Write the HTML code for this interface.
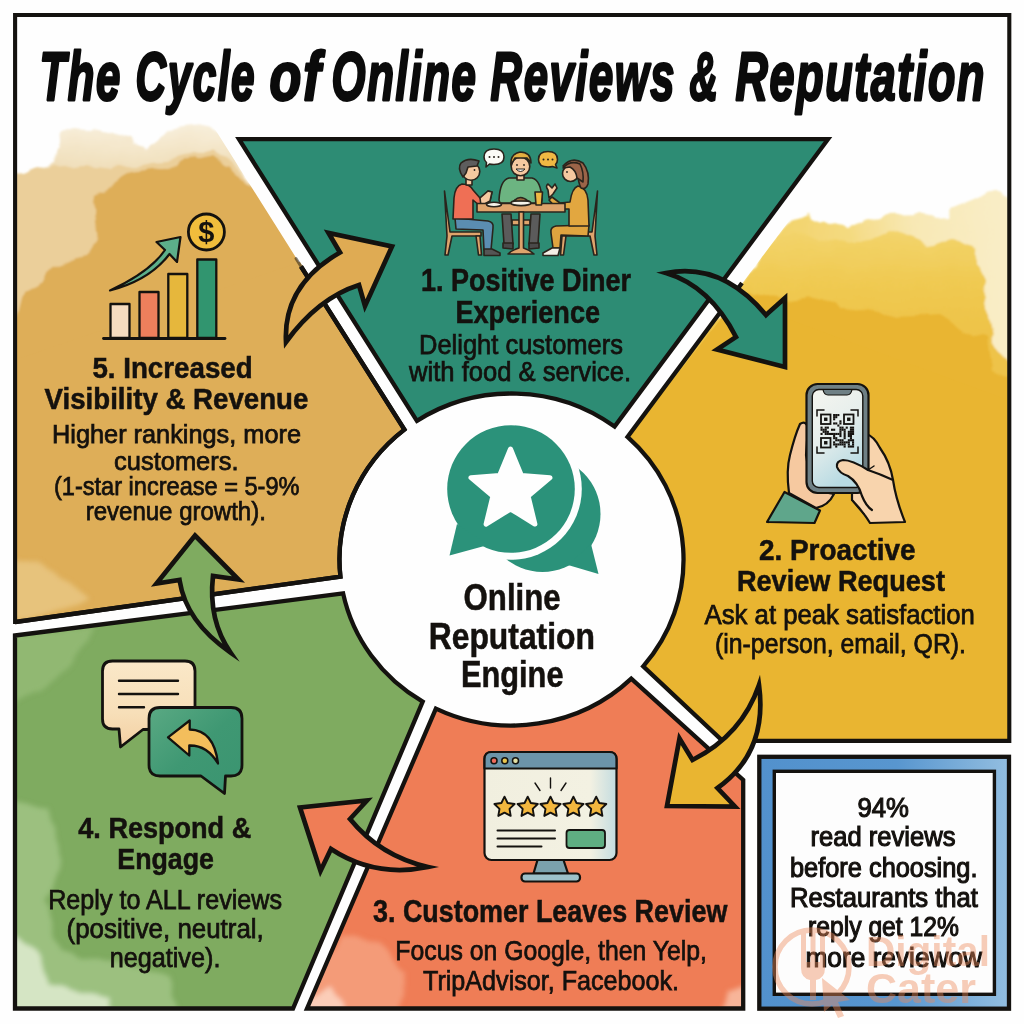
<!DOCTYPE html>
<html lang="en"><head><meta charset="utf-8"><title>The Cycle of Online Reviews &amp; Reputation</title>
<style>html,body{margin:0;padding:0;background:#fefefe;}svg{display:block;}</style></head>
<body>
<svg width="1024" height="1024" viewBox="0 0 1024 1024">
<defs>
<clipPath id="cl5"><path d="M15,15 L143,15 L404.4,429.6 A172 166 0 0 0 340.4,576.6 L15,622 Z"/></clipPath>
<clipPath id="cl2"><path d="M1009,15 L943,15 L627.5,436.9 A172 166 0 0 1 643.2,666.3 L722.5,740.8 L1009,740.8 Z"/></clipPath>
<filter id="wc" x="-5%" y="-5%" width="110%" height="110%"><feTurbulence type="fractalNoise" baseFrequency="0.035" numOctaves="3" seed="4" result="n"/><feDisplacementMap in="SourceGraphic" in2="n" scale="14" xChannelSelector="R" yChannelSelector="G" result="d"/><feGaussianBlur in="d" stdDeviation="1.1"/></filter>
<linearGradient id="tanA" gradientUnits="userSpaceOnUse" x1="0" y1="124" x2="0" y2="190"><stop offset="0" stop-color="#f8efdc"/><stop offset=".6" stop-color="#f1e0bd"/><stop offset="1" stop-color="#ebcf9a"/></linearGradient>
<linearGradient id="yelA" gradientUnits="userSpaceOnUse" x1="780" y1="0" x2="1000" y2="0"><stop offset="0" stop-color="#f3d36a"/><stop offset=".3" stop-color="#f4da80"/><stop offset=".6" stop-color="#f8e8b4"/><stop offset="1" stop-color="#f9edc6"/></linearGradient>
<linearGradient id="yelB" gradientUnits="userSpaceOnUse" x1="0" y1="232" x2="0" y2="330"><stop offset="0" stop-color="#f3d46c"/><stop offset=".5" stop-color="#f0ca52"/><stop offset="1" stop-color="#eec348"/></linearGradient>
<filter id="wc2" x="-10%" y="-10%" width="120%" height="120%"><feTurbulence type="fractalNoise" baseFrequency="0.04" numOctaves="2" seed="9" result="n"/><feDisplacementMap in="SourceGraphic" in2="n" scale="10" xChannelSelector="R" yChannelSelector="G" result="d"/><feGaussianBlur in="d" stdDeviation="2.5"/></filter>
<linearGradient id="blue" x1="0" y1="0" x2="1" y2="0"><stop offset="0" stop-color="#5291cd"/><stop offset=".55" stop-color="#5896cf"/><stop offset="1" stop-color="#93bee0"/></linearGradient>
<linearGradient id="scr" x1="0" y1="0" x2=".4" y2="1"><stop offset="0" stop-color="#f5f5ef"/><stop offset=".5" stop-color="#e6eeec"/><stop offset="1" stop-color="#b9dbe3"/></linearGradient>
<linearGradient id="mon" x1="0" y1="0" x2="1" y2="0"><stop offset="0" stop-color="#f1efdf"/><stop offset=".8" stop-color="#f3f1e2"/><stop offset="1" stop-color="#c3dce0"/></linearGradient>
<linearGradient id="cream" x1="0" y1="0" x2="0" y2="1"><stop offset="0" stop-color="#fae8c8"/><stop offset=".6" stop-color="#f7dfb9"/><stop offset="1" stop-color="#f3d0a2"/></linearGradient>
<linearGradient id="gb" x1="0" y1="0" x2="1" y2="1"><stop offset="0" stop-color="#5aa983"/><stop offset=".5" stop-color="#3f9873"/><stop offset="1" stop-color="#3a9470"/></linearGradient>
</defs>
<rect x="0" y="0" width="1024" height="1024" fill="#fefefe"/>
<g clip-path="url(#cl5)"><g filter="url(#wc)">
<path d="M0,176 L35,171 L55,166 L58,150 L65,129 L94,130 L122,137 L147,146 L162,135 L172,128 L203,124 L221,135 L233,153 L244,171 L262,203 L404.4,429.6 A 172.0 166.0 0 0 0 340.4,576.6 L0,640 Z" fill="url(#tanA)"/>
<path d="M0,176 L35,171 L56,168 L86,165 L110,168 L132,166 L152,162 L175,160 L198,155 L211,150 L226,160 L244,174 L264,196 L404.4,429.6 A 172.0 166.0 0 0 0 340.4,576.6 L0,640 Z" fill="#ebcf9a"/>
<path d="M0,330 L20,313 L25,293 L40,285 L53,267 L86,255 L94,242 L91,212 L94,196 L112,184 L132,172 L152,169 L175,167 L185,162 L198,161 L211,156 L226,167 L244,179 L264,196 L404.4,429.6 A 172.0 166.0 0 0 0 340.4,576.6 L0,640 Z" fill="#deae58"/>
</g></g>
<path d="M15,360 L300,262 L404.4,429.6 A 172.0 166.0 0 0 0 340.4,576.6 L15,622 Z" fill="#deae58"/>
<path d="M301,266.5 L404.4,429.6 A 172.0 166.0 0 0 0 340.4,576.6 L15,622" fill="none" stroke="#14120f" stroke-width="4.3" stroke-linejoin="miter"/>
<path d="M296,258.5 L301,266.5" fill="none" stroke="#14120f" stroke-width="3" stroke-linecap="round" opacity=".5"/>
<g clip-path="url(#cl2)"><g filter="url(#wc)">
<path d="M790,220 L806,214 L828,224 L846,229 L865,220 L889,213 L921,212 L937,221 L950,220 L955,207 L974,199 L992,193 L1030,200 L1030,760 L722,760 L643.2,666.3 A 172.0 166.0 0 0 0 627.5,436.9 Z" fill="url(#yelA)"/>
<path d="M770,246 L800,232 L826,240 L850,246 L874,240 L896,230 L930,244 L952,240 L975,252 L985,300 L992,345 L1030,384 L1030,760 L722,760 L643.2,666.3 A 172.0 166.0 0 0 0 627.5,436.9 Z" fill="url(#yelB)"/>
<path d="M748,292 L788,299 L820,295 L841,307 L878,313 L889,317 L942,315 L966,331 L987,339 L991,371 L1030,381 L1030,760 L722,760 L643.2,666.3 A 172.0 166.0 0 0 0 627.5,436.9 Z" fill="#e9b531"/>
</g></g>
<path d="M736,300 L1008,400 L1008,740.8 L722.5,740.8 L643.2,666.3 A 172.0 166.0 0 0 0 627.5,436.9 Z" fill="#e9b531"/>
<path d="M742,283 L627.5,436.9 A 172.0 166.0 0 0 1 643.2,666.3 L722.5,740.8 L1009,740.8" fill="none" stroke="#14120f" stroke-width="4.3" stroke-linejoin="miter"/>
<path d="M239.0,139.2 L828.0,139.2 L614.6,426.6 A 172.0 166.0 0 0 0 416.9,420.9 Z" fill="#2d8c74" stroke="#14120f" stroke-width="4.3" stroke-linejoin="miter"/>
<clipPath id="clr"><path d="M435.9,708.6 L307,1008.5 L743.2,1008.5 L743.2,780 L631.3,678.6 A 172.0 166.0 0 0 1 435.9,708.6 Z"/></clipPath><clipPath id="clg"><path d="M15,635.5 L343.1,593.4 A 172.0 166.0 0 0 0 422.7,701.6 L293,1008.5 L15,1008.5 Z"/></clipPath>
<path d="M435.9,708.6 L307,1008.5 L743.2,1008.5 L743.2,780 L631.3,678.6 A 172.0 166.0 0 0 1 435.9,708.6 Z" fill="#ef7d56"/>
<path d="M15,635.5 L343.1,593.4 A 172.0 166.0 0 0 0 422.7,701.6 L293,1008.5 L15,1008.5 Z" fill="#7fab60"/>
<g clip-path="url(#clg)"><g filter="url(#wc2)">
<path d="M10,800 L48,808 L62,860 L46,900 L60,950 L110,962 L170,975 L176,1015 L10,1015 Z" fill="#a5c78a" opacity=".75"/>
<path d="M10,935 L38,950 L48,985 L110,998 L112,1015 L10,1015 Z" fill="#e4eed6" opacity=".8"/>
<path d="M10,636 L95,626 L72,665 L40,690 L10,702 Z" fill="#98bd7b" opacity=".7"/>
</g></g>
<g clip-path="url(#clr)"><g filter="url(#wc2)">
<path d="M322,960 L345,935 L380,945 L405,975 L400,1015 L300,1015 Z" fill="#f5a684" opacity=".75"/>
<path d="M306,1000 L330,985 L350,1015 L300,1015 Z" fill="#fbd9c8" opacity=".8"/>
<path d="M722,1015 L728,992 L750,985 L750,1015 Z" fill="#f9c3aa" opacity=".8"/>
</g></g>
<g clip-path="url(#cl5)"><g filter="url(#wc2)">
<path d="M10,556 L38,562 L70,585 L92,598 L60,612 L10,622 Z" fill="#e9c783" opacity=".85"/>
</g></g>
<path d="M435.9,708.6 L307,1008.5 L743.2,1008.5 L743.2,780 L631.3,678.6 A 172.0 166.0 0 0 1 435.9,708.6 Z" fill="none" stroke="#14120f" stroke-width="4.3" stroke-linejoin="miter"/>
<path d="M15,635.5 L343.1,593.4 A 172.0 166.0 0 0 0 422.7,701.6 L293,1008.5 L15,1008.5 Z" fill="none" stroke="#14120f" stroke-width="4.3" stroke-linejoin="miter"/>
<path d="M301,266.5 L404.4,429.6 A 172.0 166.0 0 0 0 340.4,576.6 L15,622" fill="none" stroke="#14120f" stroke-width="4.3" stroke-linejoin="miter"/>
<path d="M15.1,624 L15.1,15 L1009.3,15 L1009.3,743" fill="none" stroke="#14120f" stroke-width="4.1" stroke-linejoin="miter"/>
<rect x="759.3" y="756.8" width="249.7" height="251.9" fill="url(#blue)" stroke="#14120f" stroke-width="4.3"/>
<rect x="774.3" y="771.3" width="220.1" height="223" fill="#fdfdfd" stroke="#14120f" stroke-width="3.4"/>
<g stroke="#14120f" stroke-width="4.7" stroke-linejoin="miter" stroke-miterlimit="8">
<path d="M286,342 Q283,285 340,252.5 L328.5,233 L392,246.5 L365,306 L359,285 Q318,298 286,342 Z" fill="#dfab53"/>
<path d="M666,273 Q722,262 766,315 L785,298 L785,367 L717,349.5 L736,337 Q710,286 666,273 Z" fill="#2d8c74"/>
<path d="M759,685 Q768,752 717.5,788 L735,806.5 L667,806 L679.5,738.5 L692.5,760 Q742,735 759,685 Z" fill="#e9b531"/>
<path d="M428,867 Q380,856 350,819 L367,800.5 L300,807.5 L320.5,871 L331,849 Q375,878 428,867 Z" fill="#ef7d56"/>
<path d="M195,535.5 L238.5,579.5 L213,576 Q208,620 230.5,652.5 Q186,622 179.5,580 L156.5,583.5 Z" fill="#7fab60"/>
</g>
<g>
<circle cx="542.5" cy="514" r="58" fill="#2b927a"/>
<path d="M591,544 L598.5,574 L568,565 Z" fill="#2b927a"/>
<circle cx="511" cy="489" r="70.8" fill="#fefefe"/>
<circle cx="511" cy="489" r="63.8" fill="#2b927a"/>
<path d="M457,524 L449.5,555.5 L488,545 Z" fill="#2b927a"/>
<polygon points="510.5,449.0 521.4,475.5 550.0,477.7 528.1,496.2 534.9,524.1 510.5,509.0 486.1,524.1 492.9,496.2 471.0,477.7 499.6,475.5" fill="#fefefe" stroke="#fefefe" stroke-width="5" stroke-linejoin="round"/>
</g>
<g stroke="#14120f" stroke-width="2.3" stroke-linejoin="round" stroke-linecap="round">
<rect x="110.5" y="304" width="19" height="34" fill="#f6dcc0"/>
<rect x="139.5" y="292" width="19" height="46" fill="#ee7f5c"/>
<rect x="168.3" y="274" width="19" height="64" fill="#e6b73c"/>
<rect x="197.3" y="259.5" width="19" height="78.5" fill="#31956f"/>
<path d="M103.5,338.5 L225,338.5" fill="none" stroke-width="2.8"/>
<circle cx="206.4" cy="232" r="18" fill="#f1bd3c" stroke-width="2.8"/>
<path d="M110,290.5 Q150,272 165,250 L156.5,242 L180.5,237 L177,262 L169.5,254 Q150,280 110,290.5 Z" fill="#5caf8a" stroke-width="2.2"/>
</g>
<text x="206.4" y="242" font-size="29" font-weight="700" text-anchor="middle" fill="#14120f" font-family="Liberation Sans, Arial, sans-serif">$</text>
<g stroke="#2a241c" stroke-width="1.6" stroke-linejoin="round" stroke-linecap="round">
<path d="M444.5,191 L450,232 L481,232 L481,236 L452,236 L448,255 L445,255 L447,236 Z" fill="#dfa46c"/>
<path d="M476,236 L478.5,255 L481.5,255 L480,236 Z" fill="#dfa46c"/>
<path d="M597.5,191 L592,232 L561,232 L561,236 L590,236 L594,255 L597,255 L595,236 Z" fill="#dfa46c"/>
<path d="M566,236 L563.5,255 L560.5,255 L562,236 Z" fill="#dfa46c"/>
<rect x="512" y="220" width="18" height="5" fill="#dfa46c"/>
<path d="M502,214 L511,214 L513,244 L504,244 Z M531,214 L540,214 L538,244 L529,244 Z" fill="#5b5b5b"/>
<path d="M503,243 L513,243 L513,249 L503,248 Z M529,243 L539,243 L539,248 L529,249 Z" fill="#4a4a4a"/>
<path d="M455,218 L488,221 Q494,222 493,228 L491,250 L484,250 L483,230 L456,229 Z" fill="#5b8db1"/>
<path d="M484,249 L492,249 L500,253 L500,255.5 L484,255.5 Z" fill="#555"/>
<path d="M462,184 Q455,186 454,198 L453,219 L473,219 L473,200 L480,206 L490,201 L492,192 L488,191 L480,198 L473,190 Q470,184 462,184 Z" fill="#ef6f55"/>
<path d="M480,198 L488,191 L492,192 L490,201 L481,206 Z" fill="#f6c9a0"/>
<rect x="466" y="178" width="6" height="7" fill="#f6c9a0"/>
<circle cx="471" cy="171.5" r="8.8" fill="#f6c9a0"/>
<path d="M463,177 Q457,168 461,163 Q468,157 479,161 L477,166 L468,167 L466,173 Z" fill="#5d5d5d"/>
<path d="M589,225 L556,226 Q550,227 551,233 L553,248 L560,248 L561,235 L588,236 Z" fill="#e0a43f"/>
<path d="M552,248 L560,248 L558,255.5 L543,255.5 L543,253 Z" fill="#f4efe6"/>
<path d="M578,186 Q587,188 588,200 L589,226 L569,226 L569,209 L557,209 L549,200 L552,197 L560,203 L570,202 Q572,188 578,186 Z" fill="#e2a740"/>
<path d="M548,190 Q545,186 548,184 L552,188 L555,184 L557,188 L553,194 L549,198 Z" fill="#f6c9a0"/>
<path d="M563,166 Q572,156 583,163 Q590,172 588,184 Q586,190 581,188 Q578,182 578,174 Z" fill="#9b6448"/>
<circle cx="570.5" cy="173.5" r="8" fill="#f6c9a0"/>
<path d="M563,168 Q570,160 580,164 Q584,172 583,182 L577,178 Q576,170 570,167 Z" fill="#9b6448"/>
<path d="M509,178 Q500,180 499,200 L500,203 L541,203 L542,200 Q541,180 532,178 Z" fill="#6cb481"/>
<rect x="517" y="172" width="7" height="8" fill="#f6c9a0"/>
<circle cx="520.5" cy="166.5" r="9.3" fill="#f6c9a0"/>
<path d="M511,165 Q510,154 520,152 Q531,152 531,163 L527,158 L515,158 Z" fill="#e3ae40"/>
<rect x="477" y="203.5" width="88" height="8.5" fill="#dfa46c"/>
<path d="M519,212 L523.5,212 L523.5,248 Q530,250 534,254 L508,254 Q512,250 519,248 Z" fill="#dfa46c"/>
<ellipse cx="494" cy="204.5" rx="7.5" ry="2.2" fill="#f6f3ea"/>
<ellipse cx="521" cy="203" rx="10" ry="2.6" fill="#f6f3ea"/>
<path d="M514,201 Q520,194 528,201 Z" fill="#9b6a3c"/>
<path d="M535,192 L542.5,192 L541.5,205 L536,205 Z" fill="#f0b843"/>
<path d="M494,149 Q504,149 504,157 Q504,164.5 494,164.5 Q491,164.5 489.5,164 L486,167 L486.5,162.5 Q484,160.5 484,157 Q484,149 494,149 Z" fill="#fbfbf6"/>
<path d="M548,151.5 Q538.5,151.5 538.5,159.5 Q538.5,167 548,167 Q551,167 552.5,166.5 L557,168 L555.5,164.5 Q557.5,162.5 557.5,159.5 Q557.5,151.5 548,151.5 Z" fill="#f0b843"/>
</g>
<g fill="#2a241c"><circle cx="489.5" cy="157" r="1"/><circle cx="494" cy="157" r="1"/><circle cx="498.5" cy="157" r="1"/><circle cx="543.5" cy="159.5" r="1"/><circle cx="548" cy="159.5" r="1"/><circle cx="552.5" cy="159.5" r="1"/><circle cx="474.5" cy="170" r=".9"/><circle cx="517" cy="165" r=".9"/><circle cx="524" cy="165" r=".9"/><circle cx="567" cy="172" r=".9"/></g>
<path d="M516,169 Q520.5,174 525,169 Z" fill="#fff" stroke="#2a241c" stroke-width="1"/>
<g stroke="#14120f" stroke-width="2.2" stroke-linejoin="round" stroke-linecap="round">
<path d="M767,522 L784.5,492 L820,510.5 L814.5,523 Z" fill="#5fa68b"/>
<path d="M789,493 Q786,470 790,455 Q795,435 800,424 Q806,420 808,428 L806,455 L812,490 L834,494 Q828,506 816,508 Z" fill="#f6c9a0"/>
<path d="M866,434 Q874,436 880,448 Q890,462 893,480 Q896,500 905,522 L870,523 Q862,510 852,500 L852,480 Z" fill="#f8d4ad"/>
<rect x="806.5" y="384" width="62" height="109" rx="11" fill="#6f8085"/>
<rect x="812.3" y="389.5" width="50.5" height="98" rx="6.5" fill="url(#scr)" stroke-width="1.4"/>
<path d="M823,389.5 L852,389.5 Q851,395 847,395 L828,395 Q824,395 823,389.5 Z" fill="#6f8085" stroke-width="1.2"/>
<path d="M893,480 Q880,474 868,470 Q852,460 843,460 Q836,461 837,467 Q839,473 848,476 Q858,482 862,496 Q866,506 872,510" fill="#f8d4ad"/>
<path d="M852,500 Q858,508 864,514 M868,470 L874,466" fill="none" stroke-width="1.5"/>
</g>
<g fill="none" stroke="#14120f" stroke-width="1.5" stroke-linecap="round"><path d="M817,416 L817,410 L824,410 M851,410 L858,410 L858,416 M858,447 L858,453 L851,453 M824,453 L817,453 L817,447"/></g>
<g><rect x="821" y="414.5" width="9.5" height="9.5" fill="none" stroke="#14120f" stroke-width="1.8"/><rect x="824.05" y="417.55" width="3.4" height="3.4" fill="#14120f"/><rect x="844" y="414.5" width="9.5" height="9.5" fill="none" stroke="#14120f" stroke-width="1.8"/><rect x="847.05" y="417.55" width="3.4" height="3.4" fill="#14120f"/><rect x="821" y="438" width="9.5" height="9.5" fill="none" stroke="#14120f" stroke-width="1.8"/><rect x="824.05" y="441.05" width="3.4" height="3.4" fill="#14120f"/><rect x="820.5" y="426.6" width="2.1" height="2.1" fill="#14120f"/><rect x="820.5" y="428.7" width="2.1" height="2.1" fill="#14120f"/><rect x="820.5" y="432.9" width="2.1" height="2.1" fill="#14120f"/><rect x="822.6" y="428.7" width="2.1" height="2.1" fill="#14120f"/><rect x="822.6" y="430.8" width="2.1" height="2.1" fill="#14120f"/><rect x="824.7" y="426.6" width="2.1" height="2.1" fill="#14120f"/><rect x="824.7" y="428.7" width="2.1" height="2.1" fill="#14120f"/><rect x="824.7" y="430.8" width="2.1" height="2.1" fill="#14120f"/><rect x="824.7" y="432.9" width="2.1" height="2.1" fill="#14120f"/><rect x="826.8" y="426.6" width="2.1" height="2.1" fill="#14120f"/><rect x="826.8" y="430.8" width="2.1" height="2.1" fill="#14120f"/><rect x="826.8" y="432.9" width="2.1" height="2.1" fill="#14120f"/><rect x="828.9" y="432.9" width="2.1" height="2.1" fill="#14120f"/><rect x="831.0" y="428.7" width="2.1" height="2.1" fill="#14120f"/><rect x="831.0" y="432.9" width="2.1" height="2.1" fill="#14120f"/><rect x="833.1" y="414.0" width="2.1" height="2.1" fill="#14120f"/><rect x="833.1" y="416.1" width="2.1" height="2.1" fill="#14120f"/><rect x="833.1" y="418.2" width="2.1" height="2.1" fill="#14120f"/><rect x="833.1" y="422.4" width="2.1" height="2.1" fill="#14120f"/><rect x="833.1" y="428.7" width="2.1" height="2.1" fill="#14120f"/><rect x="833.1" y="432.9" width="2.1" height="2.1" fill="#14120f"/><rect x="833.1" y="435.0" width="2.1" height="2.1" fill="#14120f"/><rect x="833.1" y="437.1" width="2.1" height="2.1" fill="#14120f"/><rect x="833.1" y="441.3" width="2.1" height="2.1" fill="#14120f"/><rect x="833.1" y="443.4" width="2.1" height="2.1" fill="#14120f"/><rect x="835.2" y="414.0" width="2.1" height="2.1" fill="#14120f"/><rect x="835.2" y="416.1" width="2.1" height="2.1" fill="#14120f"/><rect x="835.2" y="422.4" width="2.1" height="2.1" fill="#14120f"/><rect x="835.2" y="432.9" width="2.1" height="2.1" fill="#14120f"/><rect x="835.2" y="437.1" width="2.1" height="2.1" fill="#14120f"/><rect x="835.2" y="439.2" width="2.1" height="2.1" fill="#14120f"/><rect x="835.2" y="443.4" width="2.1" height="2.1" fill="#14120f"/><rect x="835.2" y="445.5" width="2.1" height="2.1" fill="#14120f"/><rect x="837.3" y="414.0" width="2.1" height="2.1" fill="#14120f"/><rect x="837.3" y="424.5" width="2.1" height="2.1" fill="#14120f"/><rect x="837.3" y="432.9" width="2.1" height="2.1" fill="#14120f"/><rect x="837.3" y="439.2" width="2.1" height="2.1" fill="#14120f"/><rect x="837.3" y="443.4" width="2.1" height="2.1" fill="#14120f"/><rect x="839.4" y="420.3" width="2.1" height="2.1" fill="#14120f"/><rect x="839.4" y="422.4" width="2.1" height="2.1" fill="#14120f"/><rect x="839.4" y="426.6" width="2.1" height="2.1" fill="#14120f"/><rect x="839.4" y="428.7" width="2.1" height="2.1" fill="#14120f"/><rect x="839.4" y="430.8" width="2.1" height="2.1" fill="#14120f"/><rect x="839.4" y="432.9" width="2.1" height="2.1" fill="#14120f"/><rect x="839.4" y="435.0" width="2.1" height="2.1" fill="#14120f"/><rect x="839.4" y="439.2" width="2.1" height="2.1" fill="#14120f"/><rect x="839.4" y="441.3" width="2.1" height="2.1" fill="#14120f"/><rect x="839.4" y="443.4" width="2.1" height="2.1" fill="#14120f"/><rect x="841.5" y="426.6" width="2.1" height="2.1" fill="#14120f"/><rect x="841.5" y="428.7" width="2.1" height="2.1" fill="#14120f"/><rect x="841.5" y="439.2" width="2.1" height="2.1" fill="#14120f"/><rect x="841.5" y="441.3" width="2.1" height="2.1" fill="#14120f"/><rect x="841.5" y="443.4" width="2.1" height="2.1" fill="#14120f"/><rect x="843.6" y="428.7" width="2.1" height="2.1" fill="#14120f"/><rect x="843.6" y="430.8" width="2.1" height="2.1" fill="#14120f"/><rect x="843.6" y="432.9" width="2.1" height="2.1" fill="#14120f"/><rect x="843.6" y="435.0" width="2.1" height="2.1" fill="#14120f"/><rect x="843.6" y="437.1" width="2.1" height="2.1" fill="#14120f"/><rect x="843.6" y="441.3" width="2.1" height="2.1" fill="#14120f"/><rect x="843.6" y="443.4" width="2.1" height="2.1" fill="#14120f"/><rect x="843.6" y="445.5" width="2.1" height="2.1" fill="#14120f"/><rect x="845.7" y="426.6" width="2.1" height="2.1" fill="#14120f"/><rect x="845.7" y="441.3" width="2.1" height="2.1" fill="#14120f"/><rect x="847.8" y="430.8" width="2.1" height="2.1" fill="#14120f"/><rect x="847.8" y="432.9" width="2.1" height="2.1" fill="#14120f"/><rect x="847.8" y="435.0" width="2.1" height="2.1" fill="#14120f"/><rect x="847.8" y="439.2" width="2.1" height="2.1" fill="#14120f"/><rect x="847.8" y="441.3" width="2.1" height="2.1" fill="#14120f"/><rect x="847.8" y="443.4" width="2.1" height="2.1" fill="#14120f"/><rect x="847.8" y="445.5" width="2.1" height="2.1" fill="#14120f"/><rect x="849.9" y="426.6" width="2.1" height="2.1" fill="#14120f"/><rect x="849.9" y="428.7" width="2.1" height="2.1" fill="#14120f"/><rect x="849.9" y="430.8" width="2.1" height="2.1" fill="#14120f"/><rect x="849.9" y="432.9" width="2.1" height="2.1" fill="#14120f"/><rect x="849.9" y="435.0" width="2.1" height="2.1" fill="#14120f"/><rect x="849.9" y="437.1" width="2.1" height="2.1" fill="#14120f"/><rect x="849.9" y="439.2" width="2.1" height="2.1" fill="#14120f"/><rect x="849.9" y="445.5" width="2.1" height="2.1" fill="#14120f"/><rect x="852.0" y="426.6" width="2.1" height="2.1" fill="#14120f"/><rect x="852.0" y="428.7" width="2.1" height="2.1" fill="#14120f"/><rect x="852.0" y="430.8" width="2.1" height="2.1" fill="#14120f"/><rect x="852.0" y="432.9" width="2.1" height="2.1" fill="#14120f"/><rect x="852.0" y="439.2" width="2.1" height="2.1" fill="#14120f"/><rect x="852.0" y="441.3" width="2.1" height="2.1" fill="#14120f"/><rect x="852.0" y="443.4" width="2.1" height="2.1" fill="#14120f"/><rect x="852.0" y="445.5" width="2.1" height="2.1" fill="#14120f"/></g>
<g stroke="#14120f" stroke-width="2.2" stroke-linejoin="round" stroke-linecap="round">
<path d="M537.5,860 L563.5,860 L568,873.5 L533.5,873.5 Z" fill="#7ba2ad"/>
<rect x="521.5" y="873.5" width="58.5" height="8" rx="3.5" fill="#9dc1c9"/>
<rect x="484.5" y="752" width="132" height="108" rx="7" fill="url(#mon)"/>
<path d="M484.5,768.5 L484.5,759 Q484.5,752 491.5,752 L609.5,752 Q616.5,752 616.5,759 L616.5,768.5 Z" fill="#6c94a9"/>
<circle cx="494" cy="760.8" r="3" fill="#ee6b5b" stroke-width="1.5"/><circle cx="504.8" cy="760.8" r="3" fill="#e9c54e" stroke-width="1.5"/><circle cx="515.5" cy="760.8" r="3" fill="#e4e0a4" stroke-width="1.5"/>
<polygon points="504.5,796.7 507.6,803.0 514.6,804.0 509.5,808.9 510.7,815.9 504.5,812.6 498.3,815.9 499.5,808.9 494.4,804.0 501.4,803.0" fill="#f3b73e" stroke-width="1.9"/>
<polygon points="527.7,796.7 530.8,803.0 537.8,804.0 532.7,808.9 533.9,815.9 527.7,812.6 521.5,815.9 522.7,808.9 517.6,804.0 524.6,803.0" fill="#f3b73e" stroke-width="1.9"/>
<polygon points="550.5,796.7 553.6,803.0 560.6,804.0 555.5,808.9 556.7,815.9 550.5,812.6 544.3,815.9 545.5,808.9 540.4,804.0 547.4,803.0" fill="#f3b73e" stroke-width="1.9"/>
<polygon points="573.4,796.7 576.5,803.0 583.5,804.0 578.4,808.9 579.6,815.9 573.4,812.6 567.2,815.9 568.4,808.9 563.3,804.0 570.3,803.0" fill="#f3b73e" stroke-width="1.9"/>
<polygon points="596.2,796.7 599.3,803.0 606.3,804.0 601.2,808.9 602.4,815.9 596.2,812.6 590.0,815.9 591.2,808.9 586.1,804.0 593.1,803.0" fill="#f3b73e" stroke-width="1.9"/>
<path d="M497.5,830.5 L555,830.5 M497.5,838.5 L555,838.5 M497.5,846.5 L541.5,846.5" fill="none" stroke-width="2"/>
<rect x="566.5" y="830" width="38.5" height="18" rx="3" fill="#5fae82" stroke-width="1.8"/>
<path d="M550.5,778 L550.5,788 M535,783 L540,790.5 M566,783 L561,790.5" fill="none" stroke-width="1.4"/>
</g>
<g stroke="#14120f" stroke-width="2.8" stroke-linejoin="round" stroke-linecap="round">
<path d="M112.5,661 L185,661 Q195,661 195,671 L195,719 Q195,729 185,729 L143,729.5 L120.5,747 L119,729 L112.5,729 Q102.5,729 102.5,719 L102.5,671 Q102.5,661 112.5,661 Z" fill="url(#cream)"/>
<path d="M119,680.7 L178,680.7 M119,694 L178,694 M119,707.3 L144,707.3" fill="none" stroke-width="2.4"/>
<path d="M160,707.5 L231,707.5 Q242,707.5 242,718.5 L242,765 Q242,776 231,776 L225.5,776 L224.5,793.5 L201,776 L160,776 Q149,776 149,765 L149,718.5 Q149,707.5 160,707.5 Z" fill="url(#gb)"/>
<path d="M168,737.3 L189.7,720.5 L189.7,729.5 Q214,730 218,763.5 Q207,745 189.3,745.5 L189.3,755.5 Z" fill="#f3be5c" stroke-width="2.3"/>
</g>
<g font-family="Liberation Sans, Arial, Helvetica, sans-serif">
<text x="421.0" y="291.0" font-size="31" font-weight="700" textLength="210.0" lengthAdjust="spacingAndGlyphs" fill="#14110e" stroke="#14110e" stroke-width=".55">1. Positive Diner</text>
<text x="455.5" y="322.5" font-size="31" font-weight="700" textLength="144.5" lengthAdjust="spacingAndGlyphs" fill="#14110e" stroke="#14110e" stroke-width=".55">Experience</text>
<text x="419.0" y="354.0" font-size="28"  textLength="204.0" lengthAdjust="spacingAndGlyphs" fill="#14110e" stroke="#14110e" stroke-width=".75">Delight customers</text>
<text x="409.0" y="381.0" font-size="28"  textLength="222.0" lengthAdjust="spacingAndGlyphs" fill="#14110e" stroke="#14110e" stroke-width=".75">with food &amp; service.</text>
<text x="92.4" y="378.0" font-size="30" font-weight="700" textLength="160.3" lengthAdjust="spacingAndGlyphs" fill="#14110e" stroke="#14110e" stroke-width=".55">5. Increased</text>
<text x="44.6" y="409.4" font-size="30" font-weight="700" textLength="263.7" lengthAdjust="spacingAndGlyphs" fill="#14110e" stroke="#14110e" stroke-width=".55">Visibility &amp; Revenue</text>
<text x="52.0" y="442.5" font-size="26"  textLength="249.0" lengthAdjust="spacingAndGlyphs" fill="#14110e" stroke="#14110e" stroke-width=".75">Higher rankings, more</text>
<text x="114.0" y="469.5" font-size="26"  textLength="124.6" lengthAdjust="spacingAndGlyphs" fill="#14110e" stroke="#14110e" stroke-width=".75">customers.</text>
<text x="54.0" y="495.3" font-size="26"  textLength="245.5" lengthAdjust="spacingAndGlyphs" fill="#14110e" stroke="#14110e" stroke-width=".75">(1-star increase = 5-9%</text>
<text x="85.7" y="520.0" font-size="26"  textLength="180.2" lengthAdjust="spacingAndGlyphs" fill="#14110e" stroke="#14110e" stroke-width=".75">revenue growth).</text>
<text x="758.9" y="559.6" font-size="30" font-weight="700" textLength="156.7" lengthAdjust="spacingAndGlyphs" fill="#14110e" stroke="#14110e" stroke-width=".55">2. Proactive</text>
<text x="736.9" y="591.2" font-size="30" font-weight="700" textLength="208.1" lengthAdjust="spacingAndGlyphs" fill="#14110e" stroke="#14110e" stroke-width=".55">Review Request</text>
<text x="704.6" y="624.0" font-size="27"  textLength="270.2" lengthAdjust="spacingAndGlyphs" fill="#14110e" stroke="#14110e" stroke-width=".75">Ask at peak satisfaction</text>
<text x="715.0" y="653.3" font-size="27"  textLength="251.0" lengthAdjust="spacingAndGlyphs" fill="#14110e" stroke="#14110e" stroke-width=".75">(in-person, email, QR).</text>
<text x="373.0" y="921.6" font-size="31" font-weight="700" textLength="354.3" lengthAdjust="spacingAndGlyphs" fill="#14110e" stroke="#14110e" stroke-width=".55">3. Customer Leaves Review</text>
<text x="395.3" y="959.8" font-size="28"  textLength="311.7" lengthAdjust="spacingAndGlyphs" fill="#14110e" stroke="#14110e" stroke-width=".75">Focus on Google, then Yelp,</text>
<text x="423.0" y="989.5" font-size="28"  textLength="256.0" lengthAdjust="spacingAndGlyphs" fill="#14110e" stroke="#14110e" stroke-width=".75">TripAdvisor, Facebook.</text>
<text x="78.3" y="837.8" font-size="30" font-weight="700" textLength="172.9" lengthAdjust="spacingAndGlyphs" fill="#14110e" stroke="#14110e" stroke-width=".55">4. Respond &amp;</text>
<text x="117.3" y="869.1" font-size="30" font-weight="700" textLength="96.7" lengthAdjust="spacingAndGlyphs" fill="#14110e" stroke="#14110e" stroke-width=".55">Engage</text>
<text x="48.2" y="908.7" font-size="27"  textLength="233.8" lengthAdjust="spacingAndGlyphs" fill="#14110e" stroke="#14110e" stroke-width=".75">Reply to ALL reviews</text>
<text x="66.6" y="938.0" font-size="27"  textLength="197.2" lengthAdjust="spacingAndGlyphs" fill="#14110e" stroke="#14110e" stroke-width=".75">(positive, neutral,</text>
<text x="109.7" y="967.3" font-size="27"  textLength="110.7" lengthAdjust="spacingAndGlyphs" fill="#14110e" stroke="#14110e" stroke-width=".75">negative).</text>
<text x="463.6" y="610.0" font-size="36" font-weight="700" textLength="97.0" lengthAdjust="spacingAndGlyphs" fill="#14110e" stroke="#14110e" stroke-width=".55">Online</text>
<text x="428.7" y="648.6" font-size="36" font-weight="700" textLength="166.3" lengthAdjust="spacingAndGlyphs" fill="#14110e" stroke="#14110e" stroke-width=".55">Reputation</text>
<text x="461.0" y="686.8" font-size="36" font-weight="700" textLength="102.5" lengthAdjust="spacingAndGlyphs" fill="#14110e" stroke="#14110e" stroke-width=".55">Engine</text>
<text x="857.5" y="816.8" font-size="27"  textLength="51.5" lengthAdjust="spacingAndGlyphs" fill="#14110e" stroke="#14110e" stroke-width="1.1">94%</text>
<text x="810.5" y="846.0" font-size="27"  textLength="145.0" lengthAdjust="spacingAndGlyphs" fill="#14110e" stroke="#14110e" stroke-width="1.1">read reviews</text>
<text x="790.0" y="876.8" font-size="27"  textLength="187.5" lengthAdjust="spacingAndGlyphs" fill="#14110e" stroke="#14110e" stroke-width="1.1">before choosing.</text>
<text x="790.0" y="906.8" font-size="27"  textLength="188.0" lengthAdjust="spacingAndGlyphs" fill="#14110e" stroke="#14110e" stroke-width="1.1">Restaurants that</text>
<text x="808.0" y="935.5" font-size="27"  textLength="151.0" lengthAdjust="spacingAndGlyphs" fill="#14110e" stroke="#14110e" stroke-width="1.1">reply get 12%</text>
<text x="805.5" y="966.8" font-size="27"  textLength="176.5" lengthAdjust="spacingAndGlyphs" fill="#14110e" stroke="#14110e" stroke-width="1.1">more reviewow</text>
</g>
<g font-family="Liberation Sans, Arial, Helvetica, sans-serif" font-weight="700" font-style="italic" font-size="68" letter-spacing="2.5" fill="#0b0b0b" stroke="#0b0b0b" stroke-width="2.8" stroke-linejoin="round">
<text x="39.6" y="100.0" textLength="82.4" lengthAdjust="spacingAndGlyphs">The</text>
<text x="135.6" y="100.0" textLength="120.4" lengthAdjust="spacingAndGlyphs">Cycle</text>
<text x="269.6" y="100.0" textLength="52.9" lengthAdjust="spacingAndGlyphs">of</text>
<text x="331.6" y="100.0" textLength="145.9" lengthAdjust="spacingAndGlyphs">Online</text>
<text x="490.6" y="100.0" textLength="185.4" lengthAdjust="spacingAndGlyphs">Reviews</text>
<text x="689.6" y="100.0" textLength="29.9" lengthAdjust="spacingAndGlyphs">&amp;</text>
<text x="735.6" y="100.0" textLength="250.4" lengthAdjust="spacingAndGlyphs">Reputation</text>
</g>
<g opacity=".42" fill="#ee8a5a" font-family="Liberation Sans, Arial, Helvetica, sans-serif" font-weight="700">
<circle cx="812" cy="967" r="37" fill="none" stroke="#ee8a5a" stroke-width="5.5"/>
<path d="M801,930 L801,968 Q801,978 810,980 L810,1000 L816,1000 L816,980 Q825,978 825,968 L825,930 L820,930 L820,962 L815.5,962 L815.5,930 L810.5,930 L810.5,962 L806,962 L806,930 Z"/>
<path d="M822,978 L850,1000 L838,1002 L844,1016 L838,1018 L832,1005 L824,1012 Z"/>
<text x="866" y="966" font-size="42" textLength="124" lengthAdjust="spacingAndGlyphs">Digital</text>
<text x="866" y="1003" font-size="42" textLength="110" lengthAdjust="spacingAndGlyphs">Cater</text>
</g>
</svg>
</body></html>
